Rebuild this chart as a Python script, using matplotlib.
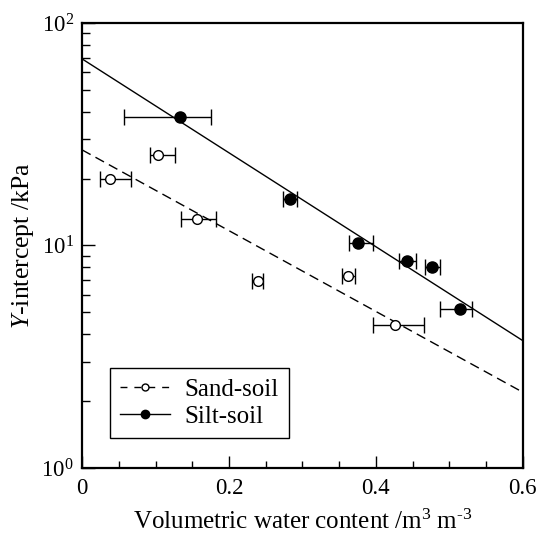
import numpy as np
import matplotlib
matplotlib.use("Agg")
import matplotlib.pyplot as plt

plt.rcParams["font.family"] = ["Liberation Serif", "DejaVu Serif"]
plt.rcParams["mathtext.fontset"] = "custom"
plt.rcParams["mathtext.rm"] = "Liberation Serif"
plt.rcParams["mathtext.it"] = "Liberation Serif:italic"

# Sand-soil (open circles)
sand_x = [0.038, 0.103, 0.157, 0.239, 0.362, 0.426]
sand_y = [19.9, 25.5, 13.2, 6.9, 7.3, 4.4]
sand_xerr_lo = [0.013, 0.010, 0.022, 0.008, 0.008, 0.030]
sand_xerr_hi = [0.029, 0.023, 0.026, 0.008, 0.009, 0.039]

# Silt-soil (filled circles)
silt_x = [0.134, 0.283, 0.376, 0.443, 0.477, 0.515]
silt_y = [37.8, 16.2, 10.3, 8.5, 8.0, 5.2]
silt_xerr_lo = [0.077, 0.010, 0.012, 0.012, 0.010, 0.027]
silt_xerr_hi = [0.042, 0.010, 0.020, 0.012, 0.011, 0.016]

# exponential fits y = a * exp(b * x)
sand_a, sand_b = 26.9, -4.18
silt_a, silt_b = 69.0, -4.86

xfit = np.linspace(0, 0.6, 100)

fig, ax = plt.subplots(figsize=(5.4, 5.36), dpi=100)

ax.plot(xfit, sand_a * np.exp(sand_b * xfit), "k--", lw=1.0, dashes=(7, 4))
ax.plot(xfit, silt_a * np.exp(silt_b * xfit), "k-", lw=1.0)

ax.errorbar(sand_x, sand_y, xerr=[sand_xerr_lo, sand_xerr_hi], fmt="o",
            mfc="white", mec="black", ms=7, mew=1.0, ecolor="black",
            elinewidth=1.0, capsize=6, capthick=1.0)
ax.errorbar(silt_x, silt_y, xerr=[silt_xerr_lo, silt_xerr_hi], fmt="o",
            mfc="black", mec="black", ms=8, ecolor="black",
            elinewidth=1.0, capsize=6, capthick=1.0)

# legend handles: line + marker
h1, = ax.plot([], [], "k--", marker="o", mfc="white", mec="black", ms=5, lw=1.0, dashes=(5, 5))
h2, = ax.plot([], [], "k-", marker="o", mfc="black", mec="black", ms=6, lw=1.0)
leg = ax.legend([h1, h2], ["Sand-soil", "Silt-soil"], loc="lower left",
                bbox_to_anchor=(0.063, 0.067), borderaxespad=0, fontsize=18,
                fancybox=False, edgecolor="black", framealpha=1,
                handlelength=2.0, handletextpad=0.6, borderpad=0.4,
                labelspacing=0.2)
leg.get_frame().set_linewidth(1.0)

ax.set_yscale("log")
ax.set_xlim(0, 0.6)
ax.set_ylim(1, 100)
ax.set_xticks([0, 0.2, 0.4, 0.6])
ax.set_xticklabels(["0", "0.2", "0.4", "0.6"])
ax.set_xticks(np.arange(0, 0.6, 0.05), minor=True)

ax.tick_params(which="both", direction="in", top=False, right=False, labelsize=16.5, width=1.0)
ax.tick_params(axis="x", which="major", length=9, pad=7)
ax.tick_params(axis="x", which="minor", length=5)
ax.tick_params(axis="y", which="major", length=9, pad=6)
ax.tick_params(axis="y", which="minor", length=6)

for s in ax.spines.values():
    s.set_linewidth(1.6)

ax.set_xlabel("Volumetric water content /m$^{3}$ m$^{\\text{-}3}$", fontsize=18, labelpad=8)
ax.set_ylabel("$\\mathit{Y}$-intercept /kPa", fontsize=18.5, labelpad=4)

fig.subplots_adjust(left=0.152, right=0.968, top=0.957, bottom=0.127)
fig.savefig("out.png", dpi=100)
